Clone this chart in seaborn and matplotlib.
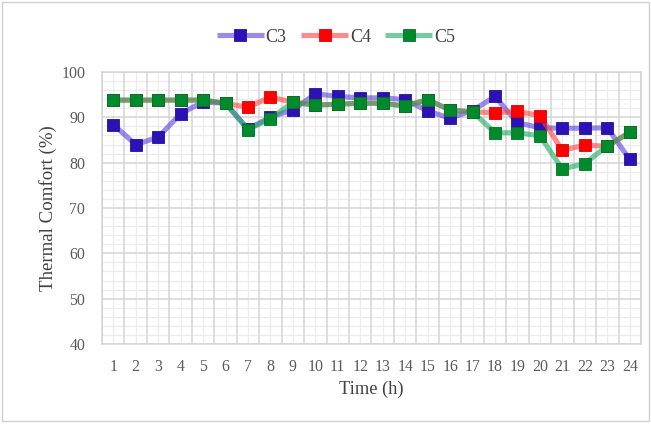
import matplotlib
matplotlib.use("Agg")
import matplotlib.pyplot as plt
import seaborn as sns
import pandas as pd
from matplotlib.ticker import MultipleLocator, FixedLocator
from matplotlib.patches import Rectangle

hours = list(range(1, 25))
c3 = [88.4, 84.0, 85.6, 90.8, 93.4, 93.1, 87.4, 90.1, 91.6, 95.2, 94.6, 94.3,
      94.3, 93.9, 91.4, 89.8, 91.5, 94.6, 88.8, 87.7, 87.6, 87.6, 87.7, 80.7]
c4 = [93.8, 93.8, 93.8, 93.8, 93.8, 93.1, 92.2, 94.5, 93.3, 92.7, 92.9, 93.1,
      93.1, 92.5, 93.9, 91.6, 91.2, 91.0, 91.3, 90.4, 82.7, 83.9, 83.6, 86.7]
c5 = [93.8, 93.8, 93.8, 93.8, 93.8, 93.1, 87.3, 89.7, 93.3, 92.7, 92.9, 93.1,
      93.1, 92.5, 93.9, 91.6, 91.2, 86.6, 86.6, 85.9, 78.6, 79.8, 83.7, 86.7]
series_names = ["C3", "C4", "C5"]
y_ticks = [40, 50, 60, 70, 80, 90, 100]

df = pd.DataFrame({"Time": hours * 3,
                   "Value": c3 + c4 + c5,
                   "Series": sum([[n] * len(hours) for n in series_names], [])})

line_cols = {"C3": (0x5b / 255, 0x3f / 255, 0xd9 / 255, 0.6),
             "C4": (1.0, 0x40 / 255, 0x40 / 255, 0.6),
             "C5": (0x1a / 255, 0xa8 / 255, 0x60 / 255, 0.6)}
mk_face = {"C3": "#2c12b5", "C4": "#ff0000", "C5": "#008a2e"}
mk_edge = {"C3": "#24109a", "C4": "#e00000", "C5": "#007425"}

sns.set_style("white")
plt.rcParams["font.family"] = ["Liberation Serif", "DejaVu Serif"]

fig = plt.figure(figsize=(6.51, 4.24), dpi=100)
ax = fig.add_axes([0.1567, 0.1887, 0.8279, 0.6415])

for name in series_names:
    sub = df[df["Series"] == name]
    sns.lineplot(data=sub, x="Time", y="Value", ax=ax, color=line_cols[name],
                 linewidth=3.7, marker="s", markersize=8.2,
                 markerfacecolor=mk_face[name], markeredgecolor=mk_edge[name],
                 markeredgewidth=0.6, label=name, solid_joinstyle="round",
                 solid_capstyle="butt")

ax.set_xlim(0.5, 24.5)
ax.set_ylim(40, 100)
ax.set_xticks(hours)
ax.set_xticklabels([str(h) for h in hours])
ax.set_yticks(y_ticks)
ax.yaxis.set_minor_locator(MultipleLocator(2))
ax.xaxis.set_minor_locator(FixedLocator([h + 0.5 for h in range(0, 25)]))

# grid: Excel style
ax.set_axisbelow(True)
ax.grid(False)
for v in range(40, 101, 2):
    if v % 10 != 0:
        ax.axhline(v, color="#ececec", lw=0.9, zorder=0)
for h in hours:
    ax.axvline(h, color="#ececec", lw=0.9, zorder=0)
for v in y_ticks:
    ax.axhline(v, color="#d4d4d4", lw=1.1, zorder=0.5)
for h in range(0, 25):
    ax.axvline(h + 0.5, color="#d4d4d4", lw=1.1, zorder=0.5)

for s in ax.spines.values():
    s.set_color("#d4d4d4")
    s.set_linewidth(1.1)

ax.tick_params(axis="both", which="both", length=0, colors="#595959",
               labelsize=11.4)
ax.tick_params(axis="x", pad=11)
ax.tick_params(axis="y", pad=12)

ax.set_xlabel("Time (h)", fontsize=13.2, color="#404040", labelpad=4)
ax.set_ylabel("Thermal Comfort (%)", fontsize=13.6, color="#404040", labelpad=3)

leg = ax.legend(loc="center", ncol=3, frameon=False, fontsize=13,
                handlelength=2.6, handletextpad=0.1, columnspacing=0.8)
leg.set_bbox_to_anchor((336 / 651, 1 - 37 / 424), transform=fig.transFigure)
for t in leg.get_texts():
    t.set_color("#404040")

fig.patches.append(Rectangle((0.003, 0.006), 0.994, 0.99, transform=fig.transFigure,
                             fill=False, edgecolor="#d0d0d0", lw=1.0))

fig.savefig("out.png", dpi=100)
